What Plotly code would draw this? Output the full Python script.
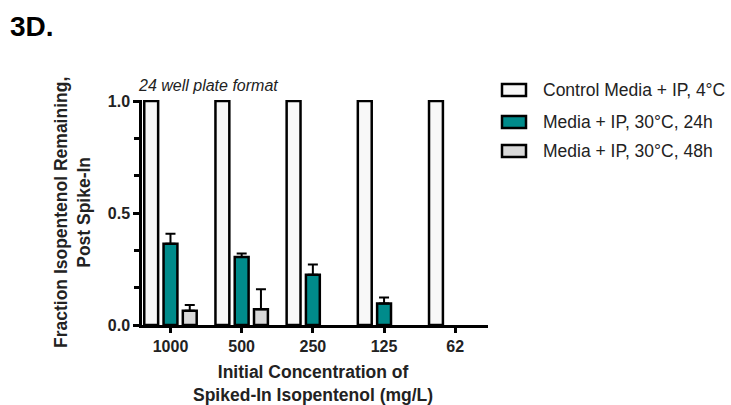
import plotly.graph_objects as go

# Spiked-in isopentenol concentrations (mg/L)
categories = ["1000", "500", "250", "125", "62"]

series_names = [
    "Control Media + IP, 4°C",
    "Media + IP, 30°C, 24h",
    "Media + IP, 30°C, 48h",
]
control_4c = [1.0, 1.0, 1.0, 1.0, 1.0]
media_24h = [0.363, 0.304, 0.225, 0.096, None]
media_24h_err = [0.045, 0.015, 0.045, 0.027, 0]
media_48h = [0.064, 0.070, None, None, None]
media_48h_err = [0.025, 0.090, 0, 0, 0]

y_major = [0.0, 0.5, 1.0]
y_major_text = ["0.0", "0.5", "1.0"]
y_minor = [1 / 6, 2 / 6, 4 / 6, 5 / 6]

fills = ["#f8f8f8", "#008b8b", "#d9d9d9"]
FONT = "Liberation Sans, Arial, sans-serif"
INK = "#222"

# plot area in pixels: x 142..488, y 100..325
L, R, T, B = 142, 488, 100, 325


def px(x):
    return (x - L) / (R - L)


def py(y):
    return (B - y) / (B - T)


def bar_trace(name, values, fill, err=None):
    kw = {}
    if err is not None:
        kw["error_y"] = dict(type="data", symmetric=False, array=err,
                             arrayminus=[0] * len(err),
                             color="black", thickness=2, width=5)
    return go.Bar(x=categories, y=values, name=name,
                  marker=dict(color=fill, line=dict(color="black", width=2.5)), **kw)


fig = go.Figure()
fig.add_trace(bar_trace(series_names[0], control_4c, fills[0]))
fig.add_trace(bar_trace(series_names[1], media_24h, fills[1], media_24h_err))
fig.add_trace(bar_trace(series_names[2], media_48h, fills[2], media_48h_err))

# Hand-built legend with wide swatches
legend_y = [90, 122, 151]
shapes = []
annotations = []
for name, col, yc in zip(series_names, fills, legend_y):
    shapes.append(dict(type="rect", xref="paper", yref="paper",
                       x0=px(502), x1=px(526), y0=py(yc + 6), y1=py(yc - 6),
                       fillcolor=col, line=dict(color="black", width=2.5)))
    annotations.append(dict(text=name, xref="paper", yref="paper",
                            x=px(541), y=py(yc), xanchor="left", yanchor="middle",
                            showarrow=False, font=dict(family=FONT, size=17.5, color=INK)))

annotations += [
    dict(text="<i>24 well plate format</i>", xref="paper", yref="paper",
         x=px(136), y=py(85), xanchor="left", yanchor="middle", showarrow=False,
         font=dict(family=FONT, size=16, color=INK)),
    dict(text="<b>3D.</b>", xref="paper", yref="paper",
         x=px(8), y=py(27), xanchor="left", yanchor="middle", showarrow=False,
         font=dict(family=FONT, size=28, color="black")),
    dict(text="<b>Fraction Isopentenol Remaining,<br>Post Spike-In</b>",
         xref="paper", yref="paper", x=px(72.5), y=py(212.5), textangle=-90,
         xanchor="center", yanchor="middle", showarrow=False,
         font=dict(family=FONT, size=17.5, color=INK)),
    dict(text="<b>Initial Concentration of<br>Spiked-In Isopentenol (mg/L)</b>",
         xref="paper", yref="paper", x=px(312.5), y=py(383),
         xanchor="center", yanchor="middle", showarrow=False,
         font=dict(family=FONT, size=17.5, color=INK)),
]

fig.update_layout(
    width=731, height=405,
    margin=dict(l=L, r=731 - R, t=T, b=405 - B),
    paper_bgcolor="white", plot_bgcolor="white",
    barmode="group", bargap=0.1875, bargroupgap=0.28,
    showlegend=False,
    shapes=shapes, annotations=annotations,
    font=dict(family=FONT, color=INK),
    xaxis=dict(
        type="category", categoryorder="array", categoryarray=categories,
        range=[-0.40, 4.46], automargin=False,
        tickmode="array", tickvals=categories,
        ticktext=[f"<b>{c}</b>" for c in categories],
        showline=True, linecolor="black", linewidth=2.5,
        ticks="outside", ticklen=5, tickwidth=2.5, tickcolor="black",
        tickfont=dict(family=FONT, size=16, color=INK),
        showgrid=False, zeroline=False,
    ),
    yaxis=dict(
        range=[0, 1.005], automargin=False,
        tickmode="array", tickvals=y_major,
        ticktext=[f"<b>{t}</b>" for t in y_major_text],
        showline=True, linecolor="black", linewidth=2.5,
        ticks="outside", ticklen=6, tickwidth=2.5, tickcolor="black",
        minor=dict(tickmode="array", tickvals=y_minor, ticks="outside",
                   ticklen=5, tickwidth=2.5, tickcolor="black"),
        tickfont=dict(family=FONT, size=16, color=INK),
        showgrid=False, zeroline=False,
    ),
)

fig.write_html("out.html")
